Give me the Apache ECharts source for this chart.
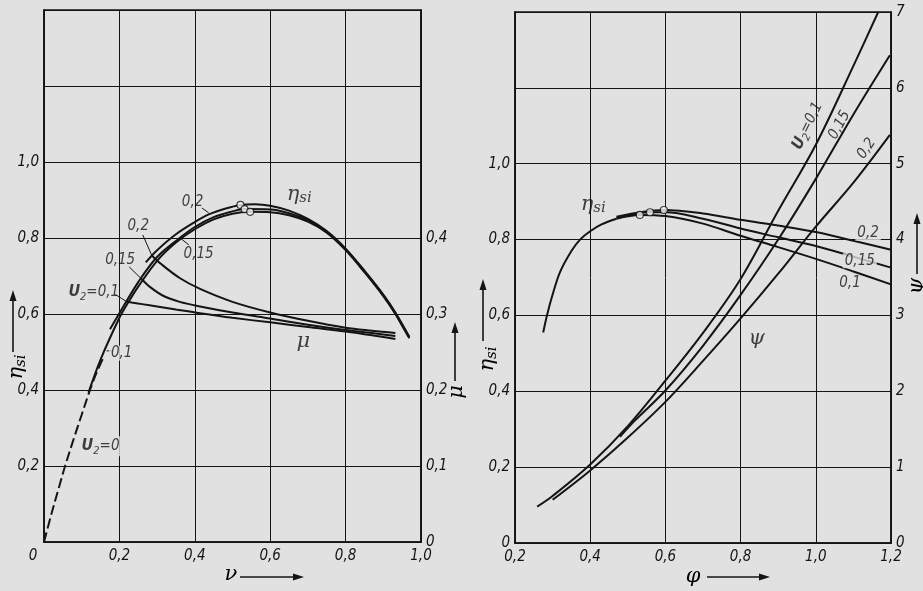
<!DOCTYPE html>
<html>
<head>
<meta charset="utf-8">
<script src="https://cdn.jsdelivr.net/npm/echarts@6/dist/echarts.min.js"></script>
<style>
  html, body { margin: 0; padding: 0; background: #e1e1e1; }
  #c { width: 923px; height: 591px; }
</style>
</head>
<body>
<div id="c"></div>
<script>
// ---------- left panel: η_si and μ against ν ----------
// U2 = 0 (dashed start of the efficiency curve)
const nuU0   = [0, 0.02, 0.04, 0.056, 0.08, 0.1, 0.122, 0.14, 0.16];
const etaU0  = [0, 0.075, 0.145, 0.2, 0.275, 0.335, 0.4, 0.447, 0.49];

// η_si, U2 = 0.1
const nuEta01  = [0.118, 0.15, 0.2, 0.22, 0.25, 0.3, 0.35, 0.4, 0.45, 0.5, 0.547, 0.6, 0.65, 0.7, 0.75, 0.8, 0.85, 0.9, 0.932, 0.969];
const eta01    = [0.393, 0.48, 0.59, 0.625, 0.672, 0.74, 0.788, 0.823, 0.849, 0.864, 0.869, 0.868, 0.86, 0.843, 0.814, 0.768, 0.71, 0.647, 0.6, 0.536];
// η_si, U2 = 0.15
const nuEta015 = [0.175, 0.2, 0.25, 0.3, 0.36, 0.4, 0.45, 0.5, 0.532, 0.6, 0.65, 0.7, 0.75, 0.8, 0.85, 0.9, 0.932, 0.969];
const eta015   = [0.56, 0.602, 0.684, 0.75, 0.80, 0.829, 0.855, 0.870, 0.876, 0.875, 0.865, 0.846, 0.816, 0.77, 0.712, 0.649, 0.602, 0.538];
// η_si, U2 = 0.2
const nuEta02  = [0.27, 0.3, 0.35, 0.4, 0.437, 0.48, 0.521, 0.56, 0.6, 0.65, 0.7, 0.75, 0.8, 0.85, 0.9, 0.932, 0.969];
const eta02    = [0.736, 0.768, 0.81, 0.842, 0.862, 0.877, 0.887, 0.889, 0.885, 0.872, 0.85, 0.818, 0.772, 0.714, 0.651, 0.604, 0.54];

// μ, U2 = 0.1 / 0.15 / 0.2
const nuMu01  = [0.22, 0.26, 0.3, 0.35, 0.414, 0.5, 0.6, 0.7, 0.8, 0.87, 0.932];
const mu01    = [0.316, 0.313, 0.31, 0.306, 0.301, 0.295, 0.289, 0.283, 0.277, 0.272, 0.267];
const nuMu015 = [0.259, 0.28, 0.316, 0.36, 0.414, 0.5, 0.6, 0.7, 0.8, 0.87, 0.932];
const mu015   = [0.346, 0.336, 0.324, 0.316, 0.31, 0.302, 0.294, 0.286, 0.279, 0.275, 0.271];
const nuMu02  = [0.286, 0.31, 0.361, 0.414, 0.5, 0.6, 0.7, 0.8, 0.87, 0.932];
const mu02    = [0.377, 0.366, 0.347, 0.333, 0.316, 0.302, 0.291, 0.282, 0.278, 0.275];

// marked optimum points (ν, η_si)
const nuOpt  = [0.521, 0.532, 0.547];
const etaOpt = [0.887, 0.876, 0.869];

// ---------- right panel: η_si and ψ against φ ----------
const phiEtaBase = [0.275, 0.285, 0.3, 0.32, 0.35, 0.373, 0.4, 0.43, 0.47];
const etaBase    = [0.555, 0.6, 0.655, 0.715, 0.77, 0.80, 0.822, 0.84, 0.855];
const phiEta01   = [0.47, 0.532, 0.6, 0.7, 0.8, 0.9, 1.0, 1.1, 1.2];
const etaPhi01   = [0.855, 0.865, 0.862, 0.842, 0.81, 0.78, 0.749, 0.716, 0.682];
const phiEta015  = [0.47, 0.559, 0.6, 0.7, 0.8, 0.9, 1.0, 1.1, 1.2];
const etaPhi015  = [0.857, 0.872, 0.872, 0.855, 0.829, 0.806, 0.783, 0.755, 0.726];
const phiEta02   = [0.47, 0.596, 0.7, 0.8, 0.9, 1.0, 1.1, 1.2];
const etaPhi02   = [0.86, 0.878, 0.869, 0.852, 0.837, 0.82, 0.797, 0.773];

const phiPsi01  = [0.259, 0.3, 0.4, 0.5, 0.6, 0.7, 0.8, 0.9, 1.0, 1.1, 1.166];
const psi01     = [0.48, 0.62, 1.035, 1.54, 2.14, 2.77, 3.48, 4.38, 5.25, 6.29, 7.0];
const phiPsi015 = [0.479, 0.52, 0.6, 0.7, 0.8, 0.9, 1.0, 1.1, 1.197];
const psi015    = [1.40, 1.62, 2.01, 2.6, 3.27, 4.0, 4.8, 5.65, 6.43];
const phiPsi02  = [0.3, 0.4, 0.5, 0.6, 0.7, 0.8, 0.9, 1.0, 1.1, 1.197];
const psi02     = [0.57, 0.957, 1.39, 1.86, 2.4, 2.96, 3.55, 4.17, 4.75, 5.38];

const phiOpt    = [0.532, 0.559, 0.596];
const etaPhiOpt = [0.865, 0.872, 0.878];

// ---------- axis ticks ----------
const nuTicks  = { min: 0,   max: 1.0, interval: 0.2 };
const phiTicks = { min: 0.2, max: 1.2, interval: 0.2 };
const etaTicks = { min: 0,   max: 1.4, interval: 0.2, lastLabel: 1.0 };
const muTicks  = { min: 0,   max: 0.7, interval: 0.1, lastLabel: 0.4 };
const psiTicks = { min: 0,   max: 7,   interval: 1,   lastLabel: 7 };

// ---------- styling ----------
const INK = '#141414';
const BG = '#e1e1e1';
const NARROW = '"Liberation Sans Narrow","DejaVu Sans Condensed","Noto Sans",sans-serif';
const SERIF = '"DejaVu Serif","Liberation Serif",serif';

const zip = (xs, ys) => xs.map((x, i) => [x, ys[i]]);
const dec = v => Math.abs(v) < 1e-9 ? '0' : v.toFixed(1).replace('.', ',');

const tickLabel = {
  color: INK, fontFamily: NARROW, fontStyle: 'italic', fontSize: 15
};

function xAxis(grid, t, zeroShift) {
  return {
    type: 'value', gridIndex: grid, min: t.min, max: t.max, interval: t.interval,
    axisLine: { show: true, lineStyle: { color: INK, width: 1.6 } },
    axisTick: { show: false },
    splitLine: { show: true, lineStyle: { color: INK, width: 1 } },
    axisLabel: Object.assign({}, tickLabel, {
      margin: 7,
      formatter: v => (zeroShift && Math.abs(v) < 1e-9) ? '{o|0}' : dec(v),
      rich: { o: Object.assign({}, tickLabel, { padding: [0, 22, 0, 0] }) }
    })
  };
}

function yAxis(grid, t, pos, opts) {
  return {
    type: 'value', gridIndex: grid, position: pos, min: t.min, max: t.max, interval: t.interval,
    axisLine: { show: true, lineStyle: { color: INK, width: 1.6 } },
    axisTick: { show: false },
    splitLine: { show: pos === 'left', lineStyle: { color: INK, width: 1 } },
    axisLabel: Object.assign({}, tickLabel, {
      margin: 5,
      formatter: v => v > t.lastLabel + 1e-9 ? '' :
        (opts.int ? String(Math.round(v)) : (opts.hideZero && v < 1e-9 ? '' : dec(v)))
    })
  };
}

function curve(xi, yi, data, dashed) {
  return {
    type: 'line', xAxisIndex: xi, yAxisIndex: yi, data: data,
    smooth: 0.35, showSymbol: false, symbol: 'none', silent: true, z: 3,
    lineStyle: { color: INK, width: 2, type: dashed ? [10, 4] : 'solid' }
  };
}

function optimum(xi, yi, data) {
  return {
    type: 'scatter', xAxisIndex: xi, yAxisIndex: yi, data: data, silent: true, z: 6,
    symbol: 'circle', symbolSize: 7,
    itemStyle: { color: '#f4f4f4', borderColor: INK, borderWidth: 1.2 }
  };
}

function leader(xi, yi, a, b) {
  return {
    type: 'line', xAxisIndex: xi, yAxisIndex: yi, data: [a, b], silent: true, z: 4,
    showSymbol: false, symbol: 'none', lineStyle: { color: INK, width: 1 }
  };
}

const richCommon = {
  n:  { fontFamily: NARROW, fontStyle: 'italic', fontSize: 15, color: INK },
  U:  { fontFamily: NARROW, fontStyle: 'italic', fontWeight: 'bold', fontSize: 16, color: INK },
  s:  { fontFamily: NARROW, fontStyle: 'italic', fontSize: 11, color: INK, padding: [9, 0, 0, 0] },
  e:  { fontFamily: SERIF, fontStyle: 'italic', fontSize: 21, color: INK },
  es: { fontFamily: SERIF, fontStyle: 'italic', fontSize: 15, color: INK, padding: [8, 0, 0, 0] },
  m:  { fontFamily: SERIF, fontStyle: 'italic', fontSize: 21, color: INK }
};

// text annotations placed in data coordinates of each panel
function tags(xi, yi, items) {
  return {
    type: 'scatter', xAxisIndex: xi, yAxisIndex: yi, silent: true, z: 8,
    symbolSize: 0,
    data: items.map(it => ({
      value: it.at,
      label: {
        show: true, position: 'inside', formatter: it.text, rotate: it.rot || 0,
        rich: richCommon,
        backgroundColor: it.mask ? BG : 'transparent', padding: it.mask ? [0, 2] : 0
      }
    }))
  };
}

const leftTags = [
  { text: '{e|η}{es|si}', at: [0.677, 0.915] },
  { text: '{n|0,2}', at: [0.394, 0.895] },
  { text: '{n|0,15}', at: [0.41, 0.758] },
  { text: '{n|0,2}', at: [0.25, 0.831] },
  { text: '{n|0,15}', at: [0.202, 0.741] },
  { text: '{U|U}{s|2}{n|=0,1}', at: [0.132, 0.657] },
  { text: '{n|0,1}', at: [0.206, 0.497], mask: true },
  { text: '{U|U}{s|2}{n|=0}', at: [0.15, 0.252], mask: true },
  { text: '{m|μ}', at: [0.688, 0.527] }
];
const rightTags = [
  { text: '{e|η}{es|si}', at: [0.408, 0.893] },
  { text: '{m|ψ}', at: [0.843, 0.54] },
  { text: '{n|0,2}', at: [1.139, 0.817], mask: true },
  { text: '{n|0,15}', at: [1.117, 0.744], mask: true },
  { text: '{n|0,1}', at: [1.091, 0.684] },
  { text: '{U|U}{s|2}{n|=0,1}', at: [0.978, 1.1], rot: 64 },
  { text: '{n|0,15}', at: [1.063, 1.102], rot: 62 },
  { text: '{n|0,2}', at: [1.135, 1.04], rot: 56 }
];

const series = [
  curve(0, 0, zip(nuU0, etaU0), true),
  curve(0, 0, zip(nuEta01, eta01)),
  curve(0, 0, zip(nuEta015, eta015)),
  curve(0, 0, zip(nuEta02, eta02)),
  curve(0, 1, zip(nuMu01, mu01)),
  curve(0, 1, zip(nuMu015, mu015)),
  curve(0, 1, zip(nuMu02, mu02)),
  optimum(0, 0, zip(nuOpt, etaOpt)),
  leader(0, 0, [0.419, 0.879], [0.437, 0.866]),
  leader(0, 0, [0.384, 0.782], [0.361, 0.80]),
  leader(0, 0, [0.262, 0.808], [0.286, 0.754]),
  leader(0, 0, [0.226, 0.724], [0.259, 0.692]),
  leader(0, 0, [0.19, 0.651], [0.22, 0.632]),
  leader(0, 0, [0.182, 0.503], [0.166, 0.503]),
  tags(0, 0, leftTags),

  curve(1, 2, zip(phiEtaBase, etaBase)),
  curve(1, 2, zip(phiEta01, etaPhi01)),
  curve(1, 2, zip(phiEta015, etaPhi015)),
  curve(1, 2, zip(phiEta02, etaPhi02)),
  curve(1, 3, zip(phiPsi01, psi01)),
  curve(1, 3, zip(phiPsi015, psi015)),
  curve(1, 3, zip(phiPsi02, psi02)),
  optimum(1, 2, zip(phiOpt, etaPhiOpt)),
  tags(1, 2, rightTags)
];

// axis titles with arrows
function arrow(x1, y1, x2, y2) {
  const ang = Math.atan2(y2 - y1, x2 - x1);
  const L = 11, W = 3.5;
  const bx = x2 - L * Math.cos(ang), by = y2 - L * Math.sin(ang);
  const px = -Math.sin(ang) * W, py = Math.cos(ang) * W;
  return [
    { type: 'line', shape: { x1, y1, x2: bx, y2: by }, style: { stroke: INK, lineWidth: 1.6 } },
    { type: 'polygon', shape: { points: [[x2, y2], [bx + px, by + py], [bx - px, by - py]] }, style: { fill: INK } }
  ];
}
function title(text, x, y, rot) {
  return {
    type: 'text', x, y, rotation: rot || 0,
    style: { text, rich: richCommon, align: 'center', verticalAlign: 'middle' }
  };
}

const graphics = [].concat(
  [title('{e|ν}', 231, 575)], arrow(240, 577, 304, 577),
  [title('{e|η}{es|si}', 17, 367, Math.PI / 2)], arrow(13, 352, 13, 290),
  [title('{m|μ}', 457, 392, Math.PI / 2)], arrow(455, 381, 455, 322),
  [title('{e|φ}', 693, 577)], arrow(707, 577, 770, 577),
  [title('{e|η}{es|si}', 488, 359, Math.PI / 2)], arrow(483, 341, 483, 279),
  [title('{m|ψ}', 917, 286, Math.PI / 2)], arrow(917, 274, 917, 213)
);

const chart = echarts.init(document.getElementById('c'), null, { renderer: 'canvas', width: 923, height: 591 });
chart.setOption({
  backgroundColor: BG,
  animation: false,
  grid: [
    { left: 44, top: 10, width: 377, height: 532, show: true, borderColor: INK, borderWidth: 1.6 },
    { left: 515, top: 12, width: 376, height: 531, show: true, borderColor: INK, borderWidth: 1.6 }
  ],
  xAxis: [xAxis(0, nuTicks, true), xAxis(1, phiTicks, false)],
  yAxis: [
    yAxis(0, etaTicks, 'left', { hideZero: true }),
    yAxis(0, muTicks, 'right', {}),
    yAxis(1, etaTicks, 'left', {}),
    yAxis(1, psiTicks, 'right', { int: true })
  ],
  series: series,
  graphic: graphics
});
</script>
</body>
</html>
